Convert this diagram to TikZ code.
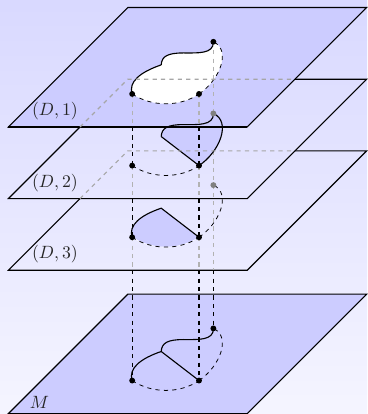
\documentclass[tikz,border=0pt]{standalone}
\usepackage{amssymb,amsmath}
\usetikzlibrary{calc, positioning}
\tikzset{
    sheetline/.style={thick},
    backline/.style={gray!70, thick, dashed},
    over/.style={black, thick, dashed},
    under/.style={gray!60, thick, dashed},
    arcline/.style={black, line width=0.55pt, dashed},
    sheetfill/.style={fill=blue!20},
    dot/.style={circle, fill=black, inner sep=0pt, minimum size=4.2pt},
    greydot/.style={circle, fill=gray, inner sep=0pt, minimum size=4.2pt},
    sheetlabel/.style={scale=1.27, text=black!85}
}
% the curves of one sheet, A at the origin of its scope
\newcommand{\curveAJ}{(0,0) .. controls (-0.1,0.3) and (0.2,0.55) .. (0.73,0.73)}
\newcommand{\curveJC}{(0.73,0.73) .. controls (0.74,0.95) and (0.9,1.03) .. (1.29,1.03) .. controls (1.65,1.03) and (2.05,1.0) .. (2.04,1.31)}
\newcommand{\curveAB}{(0,0) .. controls (0.5,-0.33) and (1.2,-0.33) .. (1.68,0)}
\newcommand{\curveBC}{(1.68,0) .. controls (2.2,0.35) and (2.5,1.1) .. (2.04,1.31)}
\begin{document}
\begin{tikzpicture}[scale=1.0]
    \useasboundingbox (-0.21,-0.01) rectangle (9.01,10.39);
    \shade[top color=blue!15, bottom color=blue!4] (-0.21,-0.01) rectangle (9.01,10.39);

    % Named points of the four levels
    \foreach \n/\y in {0/0, 3/3.6, 2/5.4, 1/7.2} {
        \coordinate (e\n) at (0,\y);
        \coordinate (f\n) at (6,\y);
        \coordinate (g\n) at (9,\y+3);
        \coordinate (h\n) at (3,\y+3);
        \coordinate (p\n) at (1.8,\y+1.8);
        \coordinate (q\n) at (7.2,\y+3);
        \coordinate (A\n) at (3.11,\y+0.83);
        \coordinate (B\n) at (4.79,\y+0.83);
        \coordinate (C\n) at (5.15,\y+2.14);
    }

    % Base plane
    \draw[sheetline, sheetfill] (e0) -- (f0) -- (g0) -- (h0) -- cycle;
    \node[sheetlabel] (labelM) at (0.78,0.28) {$M$};
    \begin{scope}[shift={(A0)}]
        \draw[thick] \curveAJ;
        \draw[thick] \curveJC;
        \draw[thick] (0.73,0.73) -- (1.68,0);
        \draw[arcline] \curveAB;
        \draw[arcline] \curveBC;
    \end{scope}

    % Lowest sheet
    \draw[sheetline] (p3) -- (e3) -- (f3) -- (g3) -- (q3);
    \begin{scope}[shift={(A3)}]
        \fill[blue!20] \curveAJ -- (1.68,0) .. controls (1.2,-0.33) and (0.5,-0.33) .. (0,0) -- cycle;
        \draw[white, thin] \curveAB;
        \draw[thick] \curveAJ -- (1.68,0);
        \draw[arcline] \curveAB;
        \draw[arcline] \curveBC;
    \end{scope}

    % Vertical lines below the lowest sheet
    \draw[over] ($(A3|-e3)$) -- (A0);
    \draw[over] ($(B3|-e3)$) -- (B0);
    \draw[over] ($(C0|-e3)$) -- (C0);
    \draw[under] (A3) -- ($(A3|-e3)$);
    \draw[under] (B3) -- ($(B3|-e3)$);

    % Middle sheet
    \draw[sheetline] (p2) -- (e2) -- (f2) -- (g2) -- (q2);
    \draw[under] (A2) -- ($(A2|-e2)$);
    \draw[under] (B2) -- ($(B2|-e2)$);
    \draw[over] ($(A3|-e2)$) -- (A3);
    \draw[over] ($(B3|-e2)$) -- (B3);
    \begin{scope}[shift={(A2)}]
        \draw[arcline] \curveAB;
    \end{scope}

    % Top plane with the hole
    \draw[sheetline, sheetfill] (e1) -- (f1) -- (g1) -- (h1) -- cycle;
    \begin{scope}[shift={(A1)}]
        \fill[white] \curveAJ .. controls (0.74,0.95) and (0.9,1.03) .. (1.29,1.03) .. controls (1.65,1.03) and (2.05,1.0) .. (2.04,1.31) .. controls (2.5,1.1) and (2.2,0.35) .. (1.68,0) .. controls (1.2,-0.33) and (0.5,-0.33) .. (0,0) -- cycle;
        \draw[thick] \curveAJ;
        \draw[thick] \curveJC;
        \draw[arcline] \curveAB;
        \draw[arcline] \curveBC;
    \end{scope}

    % Lines seen through the top plane
    \draw[under] (A1) -- ($(A1|-e1)$);
    \draw[under] (B1) -- ($(B1|-e1)$);
    \draw[under] (C1) -- ($(C1|-e3)$);

    % Part of the middle sheet
    \begin{scope}[shift={(A2)}]
        \fill[blue!20] (0.73,0.73) .. controls (0.74,0.95) and (0.9,1.03) .. (1.29,1.03) .. controls (1.65,1.03) and (2.05,1.0) .. (2.04,1.31) .. controls (2.5,1.1) and (2.2,0.35) .. (1.68,0) -- cycle;
        \draw[thick] \curveJC;
        \draw[thick] (0.73,0.73) -- (1.68,0);
        \draw[thick] \curveBC;
    \end{scope}
    \draw[sheetline] (e1) -- (f1);
    \draw[over] ($(A2|-e1)$) -- (A2);
    \draw[over] ($(B2|-e1)$) -- (B2);

    % Hidden back edges
    \draw[backline] (p2) -- (h2) -- (q2);
    \draw[backline] (p3) -- (h3) -- (q3);

    \node[sheetlabel] (label1) at (1.17,7.6) {$(D,1)$};
    \node[sheetlabel] (label2) at (1.17,5.8) {$(D,2)$};
    \node[sheetlabel] (label3) at (1.17,4.0) {$(D,3)$};

    % Points
    \foreach \n in {0,1,2,3} {
        \node[dot] (a\n) at (A\n) {};
        \node[dot] (b\n) at (B\n) {};
    }
    \node[dot] (c0) at (C0) {};
    \node[dot] (c1) at (C1) {};
    \node[greydot] (c2) at (C2) {};
    \node[greydot] (c3) at (C3) {};
\end{tikzpicture}
\end{document}
